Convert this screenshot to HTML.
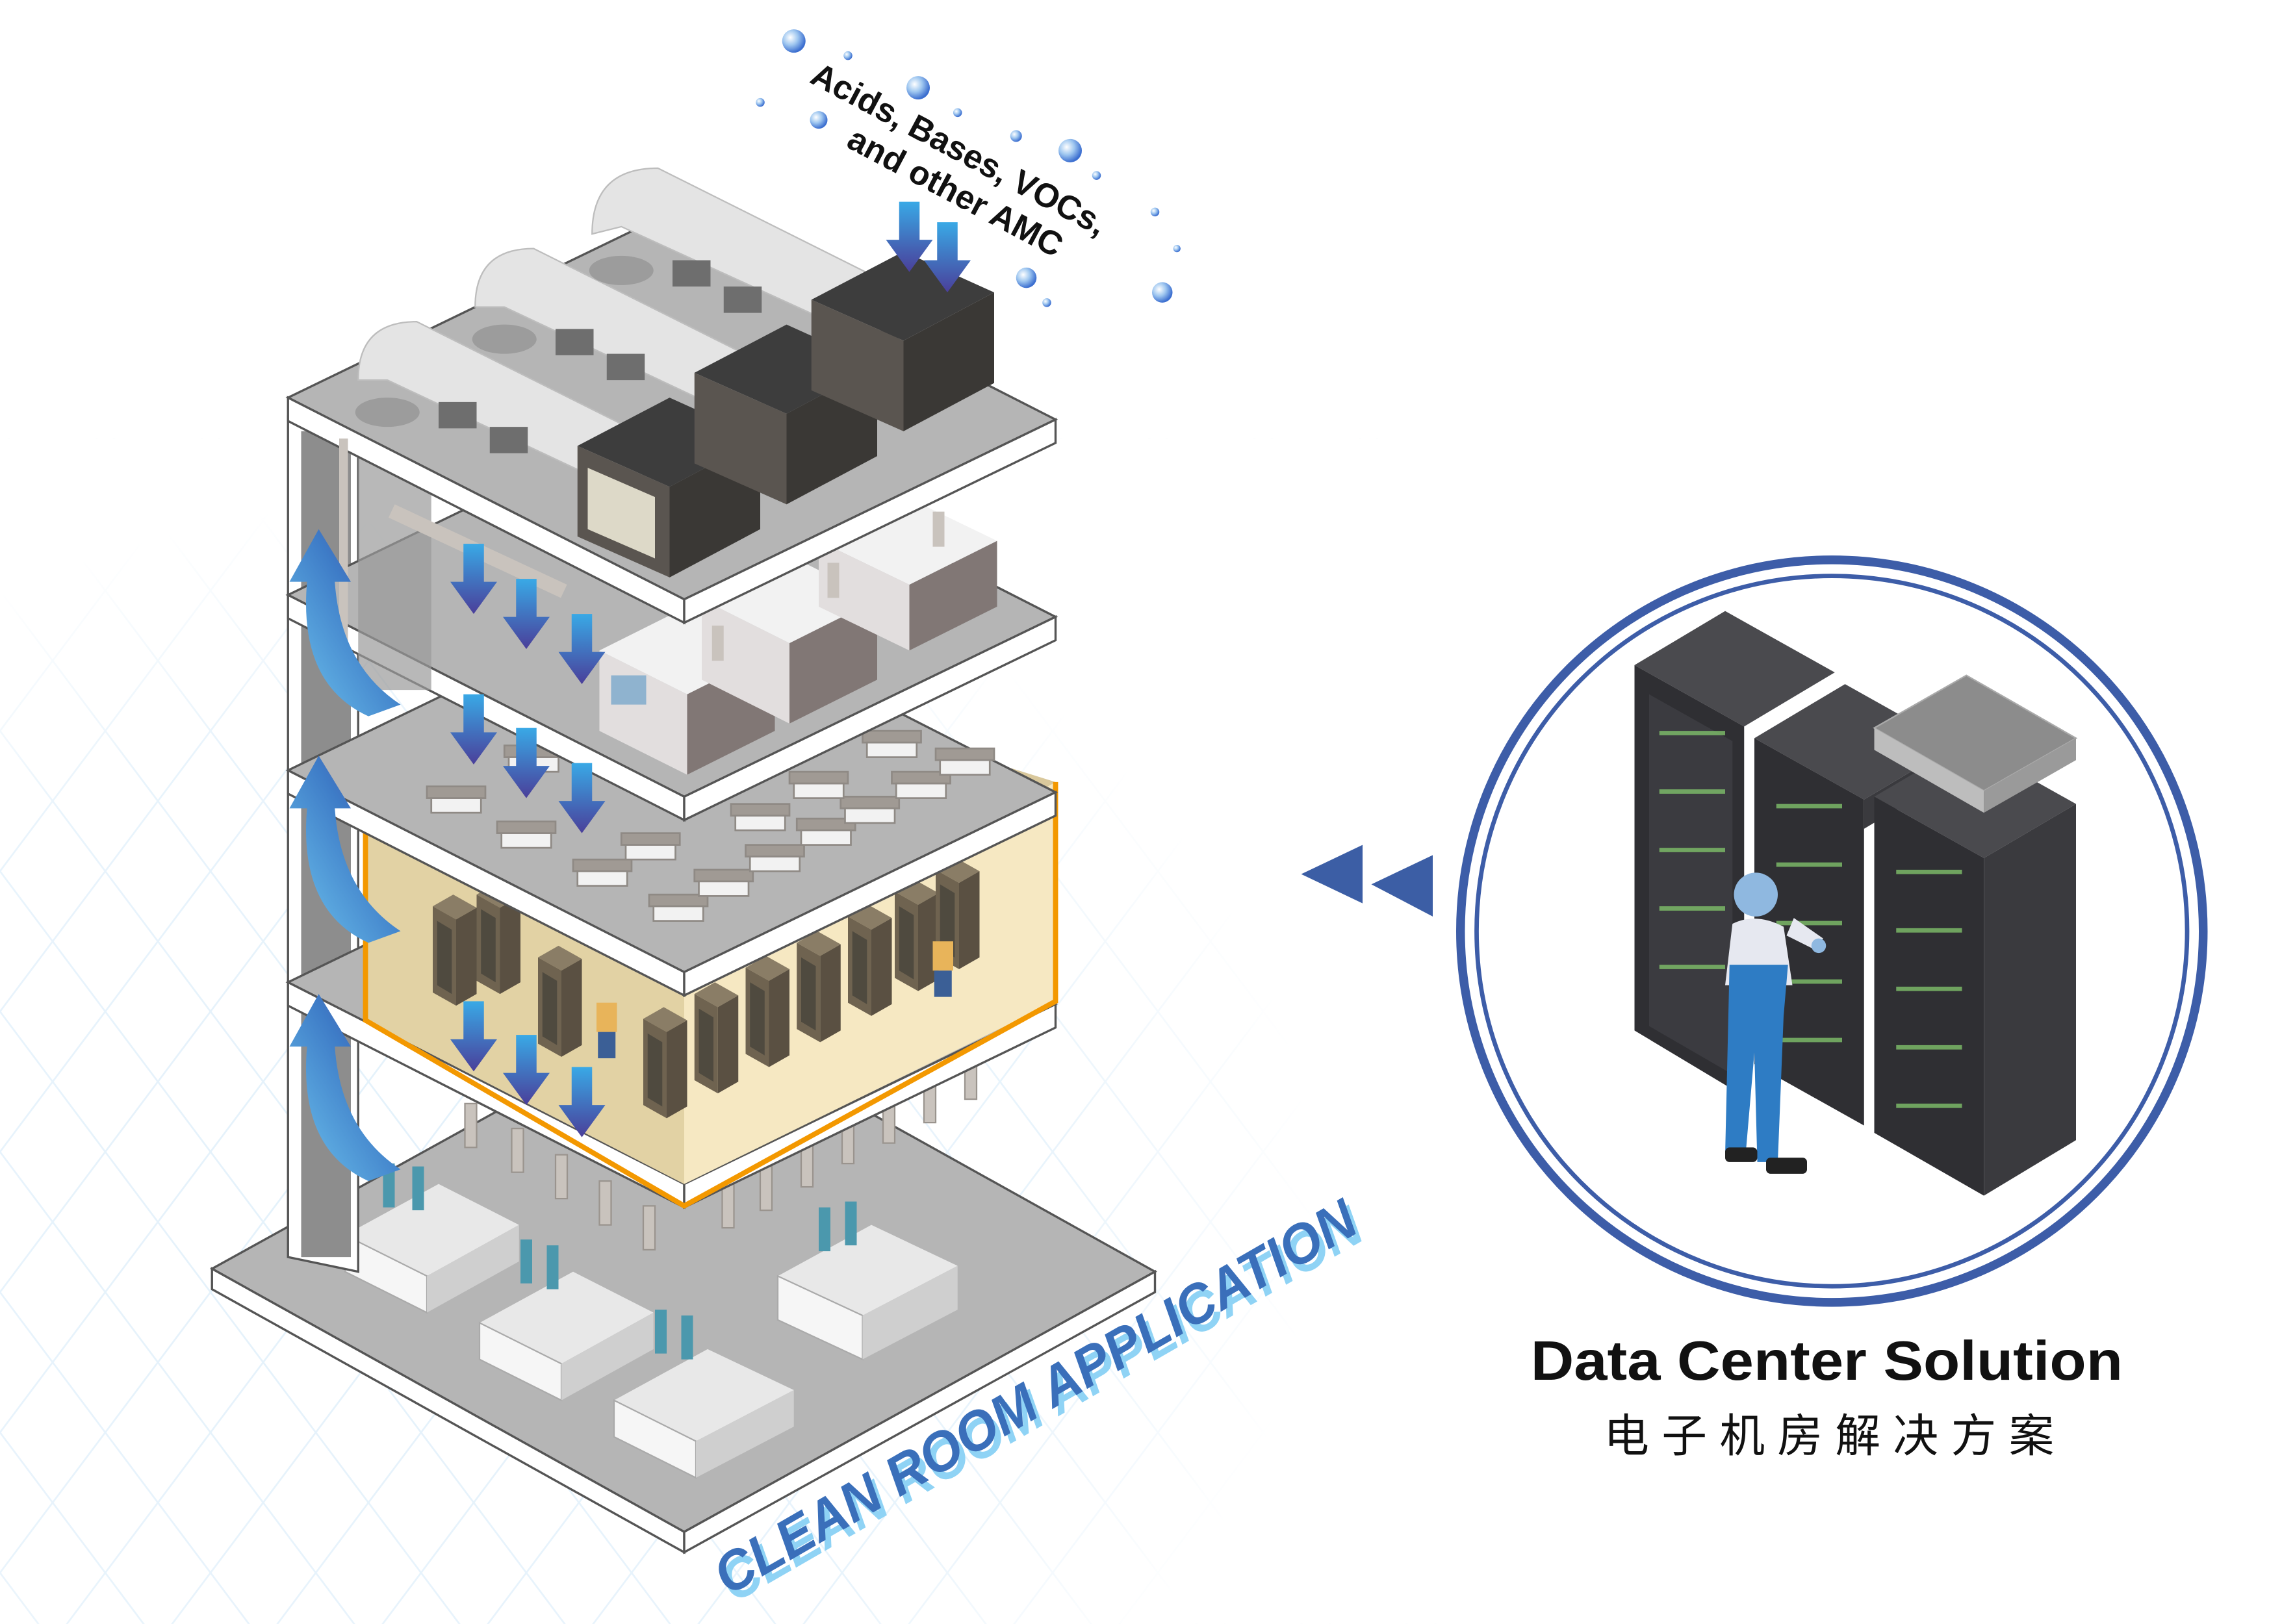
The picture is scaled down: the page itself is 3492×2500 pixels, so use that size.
<!DOCTYPE html>
<html><head><meta charset="utf-8"><style>
html,body{margin:0;padding:0;background:#fff}
svg{display:block}
</style></head><body>
<svg width="3492" height="2500" viewBox="0 0 1552 1111" xmlns="http://www.w3.org/2000/svg">
<defs>
<pattern id="grid" width="72" height="96" patternUnits="userSpaceOnUse" patternTransform="translate(0,20)">
<path d="M0 0 L72 96 M72 0 L0 96" stroke="#e3f1fb" stroke-width="1.2" fill="none"/>
</pattern>
<radialGradient id="fade" cx="0.3" cy="0.65" r="0.6">
<stop offset="0" stop-color="#fff" stop-opacity="0"/><stop offset="0.7" stop-color="#fff" stop-opacity="0.2"/><stop offset="1" stop-color="#fff" stop-opacity="1"/>
</radialGradient>
<linearGradient id="arr" x1="0" y1="0" x2="0" y2="1">
<stop offset="0" stop-color="#39a9e6"/><stop offset="1" stop-color="#4a3f9a"/>
</linearGradient>
<linearGradient id="carr" x1="0" y1="1" x2="1" y2="0">
<stop offset="0" stop-color="#6fc7f0"/><stop offset="0.6" stop-color="#3e7cc7"/><stop offset="1" stop-color="#4b3e98"/>
</linearGradient>
<radialGradient id="bub" cx="0.35" cy="0.35" r="0.65">
<stop offset="0" stop-color="#fff"/><stop offset="0.5" stop-color="#9fc7f0"/><stop offset="1" stop-color="#3c6fd0"/>
</radialGradient>
<g id="down">
<path d="M-7 0 h14 v26 h9 l-16 22 l-16 -22 h9 z" fill="url(#arr)"/>
</g>
<path id="ca" fill="url(#carr)" d="M198 398 L218 362 L240 398 L229 398 Q233 455 274 482 L252 490 Q204 468 210 398 z"/>
<g id="rack">
<polygon points="0,0 14,-8 30,1 16,9" fill="#8a7d66"/>
<polygon points="0,0 16,9 16,68 0,59" fill="#6f6350"/>
<polygon points="16,9 30,1 30,60 16,68" fill="#5a5042"/>
<polygon points="3,10 13,16 13,60 3,54" fill="#4f4a3f"/>
</g>
<g id="fan" stroke="#8f8a85" stroke-width="1.2"><rect x="0" y="0" width="40" height="8" fill="#a09a94"/><rect x="3" y="8" width="34" height="10" fill="#f2f2f2"/></g>
</defs>

<rect width="1552" height="1111" fill="#fff"/>
<rect x="0" y="300" width="1000" height="811" fill="url(#grid)"/>
<rect x="0" y="300" width="1000" height="811" fill="url(#fade)"/>

<!-- base slab -->
<polygon points="145,868 467,690 790,870 468,1048" fill="#b5b5b5" stroke="#555" stroke-width="1.5"/>
<polygon points="145,868 468,1048 468,1062 145,882" fill="#fff" stroke="#555" stroke-width="1.5"/>
<polygon points="468,1048 790,870 790,884 468,1062" fill="#fff" stroke="#555" stroke-width="1.5"/>

<!-- ground units -->
<g>
<polygon points="236,845 300,810 355,838 292,873" fill="#e8e8e8"/><polygon points="236,845 292,873 292,898 236,870" fill="#f6f6f6" stroke="#aaa"/><polygon points="292,873 355,838 355,863 292,898" fill="#cfcfcf"/>
<polygon points="328,905 392,870 447,898 384,933" fill="#e8e8e8"/><polygon points="328,905 384,933 384,958 328,930" fill="#f6f6f6" stroke="#aaa"/><polygon points="384,933 447,898 447,923 384,958" fill="#cfcfcf"/>
<polygon points="420,958 484,923 543,951 476,986" fill="#e8e8e8"/><polygon points="420,958 476,986 476,1011 420,983" fill="#f6f6f6" stroke="#aaa"/><polygon points="476,986 543,951 543,976 476,1011" fill="#cfcfcf"/>
<polygon points="532,873 596,838 655,866 590,900" fill="#e8e8e8"/><polygon points="532,873 590,900 590,930 532,903" fill="#f6f6f6" stroke="#aaa"/><polygon points="590,900 655,866 655,896 590,930" fill="#cfcfcf"/>
<g fill="#4b98ad"><rect x="262" y="796" width="8" height="30"/><rect x="282" y="798" width="8" height="30"/><rect x="356" y="848" width="8" height="30"/><rect x="374" y="852" width="8" height="30"/><rect x="448" y="896" width="8" height="30"/><rect x="466" y="900" width="8" height="30"/><rect x="560" y="826" width="8" height="30"/><rect x="578" y="822" width="8" height="30"/></g>
</g>

<!-- column -->
<polygon points="197,285 245,300 245,870 197,860" fill="#fff" stroke="#555" stroke-width="1.5"/>
<rect x="206" y="295" width="34" height="565" fill="#8d8d8d"/>

<!-- pillars under floor4 -->
<g fill="#c9c3bd" stroke="#9a948e">
<rect x="318" y="755" width="8" height="30"/><rect x="350" y="772" width="8" height="30"/><rect x="380" y="790" width="8" height="30"/><rect x="410" y="808" width="8" height="30"/><rect x="440" y="825" width="8" height="30"/><rect x="494" y="810" width="8" height="30"/><rect x="520" y="798" width="8" height="30"/><rect x="548" y="782" width="8" height="30"/><rect x="576" y="766" width="8" height="30"/><rect x="604" y="752" width="8" height="30"/><rect x="632" y="738" width="8" height="30"/><rect x="660" y="722" width="8" height="30"/>
</g>

<!-- floor 4 slab -->
<polygon points="197,672 451,549 722,687 468,810" fill="#b5b5b5" stroke="#555" stroke-width="1.5"/>
<polygon points="197,672 468,810 468,826 197,688" fill="#fff" stroke="#555" stroke-width="1.5"/>
<polygon points="468,810 722,687 722,703 468,826" fill="#fff" stroke="#555" stroke-width="1.5"/>

<!-- orange room -->
<polygon points="250,555 450,450 722,535 722,685 468,810 250,698" fill="#d9c89c"/>
<polygon points="250,555 250,698 468,810 468,680" fill="#e8d8aa" opacity="0.6"/>
<polygon points="468,680 722,535 722,685 468,810" fill="#fdf0cc" opacity="0.8"/>
<g>
<use href="#rack" x="296" y="620"/><use href="#rack" x="326" y="612"/>
<use href="#rack" x="368" y="655"/><use href="#rack" x="440" y="697"/><use href="#rack" x="475" y="680"/><use href="#rack" x="510" y="662"/><use href="#rack" x="545" y="645"/><use href="#rack" x="580" y="627"/><use href="#rack" x="612" y="610"/><use href="#rack" x="640" y="595"/>
</g>
<g fill="#e8b45a"><rect x="408" y="686" width="14" height="20"/><rect x="638" y="644" width="14" height="20"/></g>
<g fill="#3b5f96"><rect x="409" y="706" width="12" height="18"/><rect x="639" y="664" width="12" height="18"/></g>
<polyline points="250,555 250,698 468,825 722,685 722,535" fill="none" stroke="#f39800" stroke-width="3.5"/>
<line x1="250" y1="555" x2="290" y2="577" stroke="#f39800" stroke-width="3.5"/>

<!-- floor 3 slab -->
<polygon points="197,527 451,404 722,542 468,665" fill="#b5b5b5" stroke="#555" stroke-width="1.5"/>
<polygon points="197,527 468,665 468,681 197,543" fill="#fff" stroke="#555" stroke-width="1.5"/>
<polygon points="468,665 722,542 722,558 468,681" fill="#fff" stroke="#555" stroke-width="1.5"/>
<use href="#fan" x="292" y="538"/><use href="#fan" x="340" y="562"/><use href="#fan" x="392" y="588"/><use href="#fan" x="444" y="612"/>
<use href="#fan" x="345" y="510"/><use href="#fan" x="425" y="570"/><use href="#fan" x="475" y="595"/><use href="#fan" x="510" y="578"/>
<use href="#fan" x="545" y="560"/><use href="#fan" x="575" y="545"/><use href="#fan" x="610" y="528"/><use href="#fan" x="640" y="512"/><use href="#fan" x="590" y="500"/><use href="#fan" x="500" y="550"/><use href="#fan" x="540" y="528"/>

<!-- floor 2 slab -->
<polygon points="197,407 451,284 722,422 468,545" fill="#b5b5b5" stroke="#555" stroke-width="1.5"/>
<polygon points="197,407 468,545 468,561 197,423" fill="#fff" stroke="#555" stroke-width="1.5"/>
<polygon points="468,545 722,422 722,438 468,561" fill="#fff" stroke="#555" stroke-width="1.5"/>
<rect x="245" y="312" width="50" height="160" fill="#9a9a9a" opacity="0.7"/>
<g>
<polygon points="410,445 470,415 530,445 470,475" fill="#f2f2f2"/><polygon points="410,445 470,475 470,530 410,500" fill="#e2dede"/><polygon points="470,475 530,445 530,500 470,530" fill="#817775"/>
<polygon points="480,410 540,380 600,410 540,440" fill="#f2f2f2"/><polygon points="480,410 540,440 540,495 480,465" fill="#e2dede"/><polygon points="540,440 600,410 600,465 540,495" fill="#817775"/>
<polygon points="560,370 620,340 682,370 622,400" fill="#f2f2f2"/><polygon points="560,370 622,400 622,445 560,415" fill="#e2dede"/><polygon points="622,400 682,370 682,415 622,445" fill="#817775"/>
<rect x="418" y="462" width="24" height="20" fill="#8fb3cf"/>
</g>

<!-- roof slab -->
<polygon points="197,272 451,149 722,287 468,410" fill="#b5b5b5" stroke="#555" stroke-width="1.5"/>
<polygon points="197,272 468,410 468,426 197,288" fill="#fff" stroke="#555" stroke-width="1.5"/>
<polygon points="468,410 722,287 722,303 468,426" fill="#fff" stroke="#555" stroke-width="1.5"/>
<g fill="#c9c3bd"><rect x="487" y="428" width="8" height="24"/><rect x="566" y="385" width="8" height="24"/><rect x="638" y="350" width="8" height="24"/><rect x="232" y="300" width="6" height="140"/><rect x="270" y="345" width="130" height="10" transform="rotate(25 270 345)"/></g>

<!-- roof equipment: pipes -->
<g>
<path d="M245 260 q0 -40 40 -40 l160 80 l-10 40 l-170 -80 z" fill="#e4e4e4" stroke="#bdbdbd"/>
<path d="M325 210 q0 -40 40 -40 l160 80 l-10 40 l-170 -80 z" fill="#e4e4e4" stroke="#bdbdbd"/>
<path d="M405 160 q0 -45 45 -45 l160 80 l-10 40 l-175 -80 z" fill="#e4e4e4" stroke="#bdbdbd"/>
<ellipse cx="265" cy="282" rx="22" ry="10" fill="#9c9c9c"/><ellipse cx="345" cy="232" rx="22" ry="10" fill="#9c9c9c"/><ellipse cx="425" cy="185" rx="22" ry="10" fill="#9c9c9c"/>
<g fill="#6e6e6e"><rect x="300" y="275" width="26" height="18"/><rect x="335" y="292" width="26" height="18"/><rect x="380" y="225" width="26" height="18"/><rect x="415" y="242" width="26" height="18"/><rect x="460" y="178" width="26" height="18"/><rect x="495" y="196" width="26" height="18"/></g>
</g>
<g>
<polygon points="395,305 458,272 520,300 458,333" fill="#3d3d3d"/><polygon points="395,305 458,333 458,395 395,367" fill="#5a5550"/><polygon points="458,333 520,300 520,362 458,395" fill="#3a3835"/><polygon points="402,320 448,340 448,382 402,362" fill="#ddd9c8"/>
<polygon points="475,255 538,222 600,250 538,283" fill="#3d3d3d"/><polygon points="475,255 538,283 538,345 475,317" fill="#5a5550"/><polygon points="538,283 600,250 600,312 538,345" fill="#3a3835"/>
<polygon points="555,205 618,172 680,200 618,233" fill="#3d3d3d"/><polygon points="555,205 618,233 618,295 555,267" fill="#5a5550"/><polygon points="618,233 680,200 680,262 618,295" fill="#3a3835"/>
</g>

<!-- down arrows -->
<use href="#down" x="622" y="138"/><use href="#down" x="648" y="152"/>
<use href="#down" x="324" y="372"/><use href="#down" x="360" y="396"/><use href="#down" x="398" y="420"/>
<use href="#down" x="324" y="475"/><use href="#down" x="360" y="498"/><use href="#down" x="398" y="522"/>
<use href="#down" x="324" y="685"/><use href="#down" x="360" y="708"/><use href="#down" x="398" y="730"/>

<!-- curved arrows -->
<use href="#ca"/>
<use href="#ca" y="155"/><use href="#ca" y="318"/>

<!-- bubbles -->
<g fill="url(#bub)">
<circle cx="543" cy="28" r="8"/><circle cx="628" cy="60" r="8"/><circle cx="732" cy="103" r="8"/><circle cx="560" cy="82" r="6"/><circle cx="702" cy="190" r="7"/><circle cx="795" cy="200" r="7"/><circle cx="695" cy="93" r="4"/><circle cx="580" cy="38" r="3"/><circle cx="520" cy="70" r="3"/><circle cx="655" cy="77" r="3"/><circle cx="790" cy="145" r="3"/><circle cx="750" cy="120" r="3"/><circle cx="716" cy="207" r="3"/><circle cx="805" cy="170" r="2.5"/>
</g>
<g font-family="'Liberation Sans',sans-serif" font-weight="bold" font-size="23" fill="#111">
<text transform="translate(553,56) rotate(28)">Acids, Bases, VOCs,</text>
<text transform="translate(578,100) rotate(28)">and other AMC</text>
</g>

<!-- CLEAN ROOM APPLICATION -->
<g font-family="'Liberation Sans',sans-serif" font-weight="bold" font-style="italic" font-size="38">
<text transform="translate(502,1097) rotate(-30)" fill="#8fd3f5" textLength="500" lengthAdjust="spacingAndGlyphs">CLEAN ROOM APPLICATION</text>
<text transform="translate(498,1092) rotate(-30)" fill="#3a6fba" textLength="500" lengthAdjust="spacingAndGlyphs">CLEAN ROOM APPLICATION</text>
</g>

<!-- triangles -->
<polygon points="890,598 932,578 932,618" fill="#3c5ea5"/>
<polygon points="938,605 980,585 980,627" fill="#3c5ea5"/>

<!-- circle -->
<circle cx="1253" cy="637" r="254" fill="#fff" stroke="#3d5da8" stroke-width="6"/>
<circle cx="1253" cy="637" r="243" fill="none" stroke="#3d5da8" stroke-width="3"/>
<g>
<polygon points="1118,455 1180,418 1255,460 1193,497" fill="#4a4a4e"/>
<polygon points="1118,455 1193,497 1193,750 1118,705" fill="#2f2f33"/>
<polygon points="1128,475 1185,507 1185,735 1128,702" fill="#3b3b40"/>
<polygon points="1200,505 1262,468 1337,510 1275,547" fill="#4a4a4e"/>
<polygon points="1200,505 1275,547 1275,770 1200,728" fill="#2f2f33"/>
<polygon points="1275,547 1337,510 1337,530 1275,567" fill="#3a3a3e"/>
<polygon points="1282,545 1345,508 1420,550 1357,587" fill="#4a4a4e"/>
<polygon points="1282,545 1357,587 1357,818 1282,775" fill="#2f2f33"/>
<polygon points="1357,587 1420,550 1420,780 1357,818" fill="#3a3a3e"/>
<polygon points="1282,498 1345,462 1420,505 1357,541" fill="#8c8c8c" stroke="#aaa"/>
<polygon points="1282,498 1357,541 1357,556 1282,513" fill="#bdbdbd"/>
<polygon points="1357,541 1420,505 1420,520 1357,556" fill="#9a9a9a"/>
<g fill="#7fc06a" opacity="0.8">
<rect x="1135" y="500" width="45" height="3"/><rect x="1135" y="540" width="45" height="3"/><rect x="1135" y="580" width="45" height="3"/><rect x="1135" y="620" width="45" height="3"/><rect x="1135" y="660" width="45" height="3"/>
<rect x="1215" y="550" width="45" height="3"/><rect x="1215" y="590" width="45" height="3"/><rect x="1215" y="630" width="45" height="3"/><rect x="1215" y="670" width="45" height="3"/><rect x="1215" y="710" width="45" height="3"/>
<rect x="1297" y="595" width="45" height="3"/><rect x="1297" y="635" width="45" height="3"/><rect x="1297" y="675" width="45" height="3"/><rect x="1297" y="715" width="45" height="3"/><rect x="1297" y="755" width="45" height="3"/>
</g>
<circle cx="1201" cy="612" r="15" fill="#8fb8e0"/>
<path d="M1185 632 q16 -8 35 2 l6 40 h-46 z" fill="#e6e8f0"/>
<path d="M1222 640 l20 10 l5 -8 l-20 -14 z" fill="#e6e8f0"/>
<circle cx="1244" cy="647" r="5" fill="#8fb8e0"/>
<path d="M1183 660 h40 l-3 35 l-4 100 h-14 l-2 -75 l-6 70 h-14 z" fill="#2e7cc4"/>
<rect x="1180" y="785" width="22" height="10" fill="#222" rx="3"/><rect x="1208" y="792" width="28" height="11" fill="#222" rx="3"/>
</g>

<text x="1047" y="944" font-family="'Liberation Sans',sans-serif" font-weight="bold" font-size="38" fill="#111" textLength="405" lengthAdjust="spacingAndGlyphs">Data Center Solution</text>
<text x="1097" y="993" font-family="'Liberation Sans','Noto Sans CJK SC',sans-serif" font-size="31" fill="#111" textLength="308" lengthAdjust="spacing">电子机房解决方案</text>
</svg>
</body></html>
